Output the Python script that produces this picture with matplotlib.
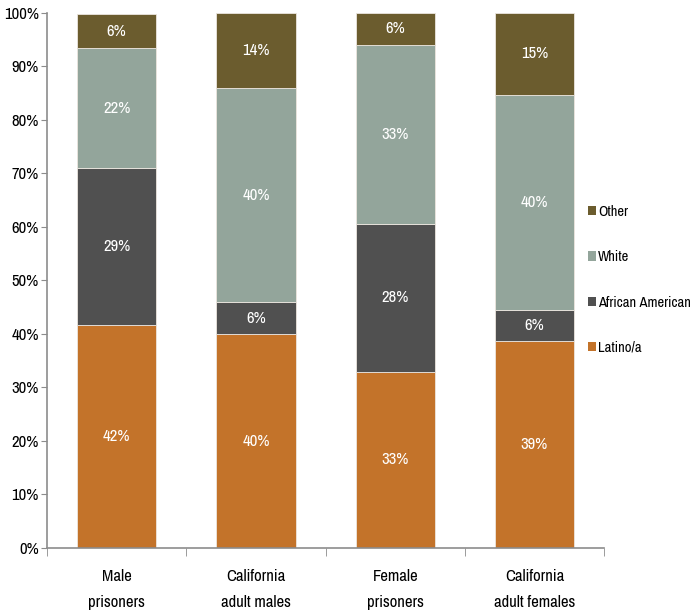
import numpy as np
import matplotlib as mpl
import matplotlib.pyplot as plt
from matplotlib import font_manager
from matplotlib.patches import Patch

# pick a narrow sans if the system has one
names = {f.name for f in font_manager.fontManager.ttflist}
narrow = [n for n in ["Liberation Sans Narrow", "Arial Narrow", "Archivo Narrow",
                      "PT Sans Narrow", "Roboto Condensed"] if n in names]
mpl.rcParams["font.family"] = narrow[:1] + ["Liberation Sans", "DejaVu Sans"]
mpl.rcParams["font.size"] = 12

groups = ["Male\nprisoners", "California\nadult males",
          "Female\nprisoners", "California\nadult females"]
latino = [41.6, 39.9, 32.9, 38.7]
african_american = [29.4, 6.0, 27.7, 5.7]
white = [22.4, 40.1, 33.4, 40.3]
other = [6.4, 14.0, 6.0, 15.3]

series = [("Latino/a", latino, "#c3732a"),
          ("African American", african_american, "#505050"),
          ("White", white, "#93a59b"),
          ("Other", other, "#6b5c2e")]

fig = plt.figure(figsize=(6.92, 6.15), dpi=100)
ax = fig.add_axes([0.068, 0.109, 0.805, 0.870])

x = np.arange(len(groups))
bottom = np.zeros(len(groups))
handles = []
for label, vals, color in series:
    vals = np.array(vals)
    ax.bar(x, vals, bottom=bottom, width=0.57, color=color,
           edgecolor="#ece6df", linewidth=0.6)
    for xi, b, v in zip(x, bottom, vals):
        ax.text(xi, b + v / 2, "%d%%" % round(v), ha="center", va="center",
                color="white", fontsize=12)
    bottom += vals
    handles.append(Patch(facecolor=color, label=label))

ax.set_xlim(-0.5, len(groups) - 0.5)
ax.set_ylim(0, 100)
ax.set_yticks(np.arange(0, 101, 10))
ax.set_yticklabels(["%d%%" % t for t in range(0, 101, 10)])
ax.set_xticks(x)
ax.set_xticklabels(groups, linespacing=1.9)
ax.set_xticks(np.arange(-0.5, len(groups)), minor=True)
ax.tick_params(axis="x", which="major", length=0, pad=15)
ax.tick_params(axis="x", which="minor", length=6, color="#8c8c8c")
ax.tick_params(axis="y", length=4, color="#8c8c8c", pad=2)

for side in ["top", "right"]:
    ax.spines[side].set_visible(False)
for side in ["left", "bottom"]:
    ax.spines[side].set_color("#8c8c8c")
    ax.spines[side].set_linewidth(1.2)

leg = fig.legend(handles=handles[::-1], loc="center left",
                 bbox_to_anchor=(0.849, 0.545), frameon=False,
                 handlelength=0.6, handleheight=0.6, handletextpad=0.12,
                 labelspacing=2.15, fontsize=10.5, borderaxespad=0,
                 borderpad=0)

fig.savefig("out.png", dpi=100)
